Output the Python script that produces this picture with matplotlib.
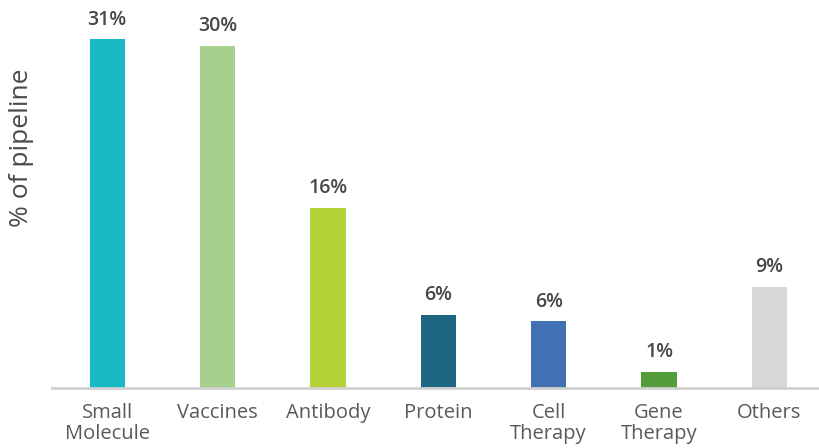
import matplotlib
matplotlib.use("Agg")
import matplotlib.pyplot as plt

categories = ["Small\nMolecule", "Vaccines", "Antibody", "Protein",
              "Cell\nTherapy", "Gene\nTherapy", "Others"]
shares = [31, 30.4, 16, 6.5, 5.9, 1.4, 9.0]
share_labels = ["31%", "30%", "16%", "6%", "6%", "1%", "9%"]
colors = ["#17B9C3", "#A8D08D", "#B2D235", "#1D6684",
          "#4271B3", "#539E3B", "#D9D7D7"]

plt.rcParams["font.family"] = ["Open Sans", "DejaVu Sans"]

fig = plt.figure(figsize=(8.19, 4.48), dpi=100)
ax = fig.add_axes([52 / 819, 1 - 387.7 / 448, 1 - 52 / 819, 387.7 / 448])

x = range(len(categories))
bars = ax.bar(x, shares, width=0.32, color=colors)

for b, lab in zip(bars, share_labels):
    ax.annotate(lab, (b.get_x() + b.get_width() / 2, b.get_height()),
                xytext=(0, 7), textcoords="offset points",
                ha="center", va="bottom", fontsize=14,
                color="#484848", fontweight="semibold")

ax.set_xlim(-0.5, 6.45)
ax.set_ylim(0, 34.5)
ax.set_xticks(list(x))
ax.set_xticklabels(categories, fontsize=14.5, color="#595959", linespacing=1.1)
ax.tick_params(axis="x", length=0, pad=11)
ax.set_yticks([])

for s in ["top", "right", "left"]:
    ax.spines[s].set_visible(False)
ax.spines["bottom"].set_color("#D0D0D0")
ax.spines["bottom"].set_linewidth(2)

fig.text(22 / 819, 1 - 148 / 448, "% of pipeline", rotation=90,
         ha="center", va="center", fontsize=19, color="#4A4A4A")

fig.savefig("out.png", dpi=100)
